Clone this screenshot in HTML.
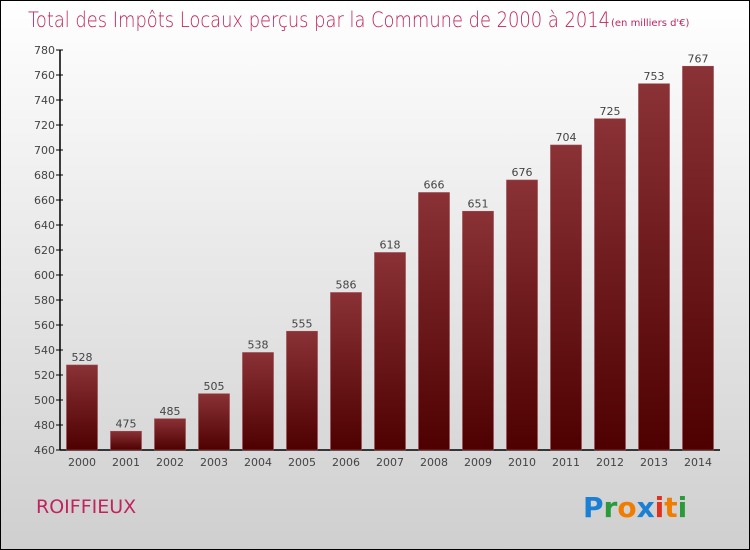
<!DOCTYPE html>
<html><head><meta charset="utf-8"><style>
body{margin:0}
#c{width:748px;height:548px;border:1px solid #000;background:linear-gradient(#ffffff,#cfcfcf);position:relative;font-family:"DejaVu Sans","Liberation Sans",sans-serif;overflow:hidden}
</style></head><body>
<div id="c">
<svg width="748" height="548">
<defs><linearGradient id="g" x1="0" y1="0" x2="0" y2="1"><stop offset="0" stop-color="#8a3236"/><stop offset="1" stop-color="#4e0000"/></linearGradient></defs>
<text x="27" y="26" font-size="21" fill="#c0245e" font-weight="200" style="font-family:'DejaVu Sans',sans-serif" textLength="582" lengthAdjust="spacingAndGlyphs">Total des Impôts Locaux perçus par la Commune de 2000 à 2014</text>
<text x="610" y="25" font-size="10" fill="#c0245e">(en milliers d'€)</text>
<g id="plot"></g>
<text x="35" y="512" font-size="19" fill="#c0245e">ROIFFIEUX</text>
<g font-size="28" font-weight="bold" font-family="'DejaVu Sans',sans-serif">
<text x="582" y="516"><tspan fill="#1b7fd4">P</tspan><tspan fill="#2a9a3a">r</tspan><tspan fill="#f07d00">o</tspan><tspan fill="#1b7fd4">x</tspan><tspan fill="#e03020">i</tspan><tspan fill="#f07d00">t</tspan><tspan fill="#2a9a3a">i</tspan></text></g>
</svg></div>
<script>
const years=["2000","2001","2002","2003","2004","2005","2006","2007","2008","2009","2010","2011","2012","2013","2014"];
const values=[528,475,485,505,538,555,586,618,666,651,676,704,725,753,767];
const yTicks=[460,480,500,520,540,560,580,600,620,640,660,680,700,720,740,760,780];
const NS="http://www.w3.org/2000/svg";
const g=document.getElementById('plot');
const x0=59,x1=719,yTop=49,yBot=449,vMin=460,vMax=780;
const band=(x1-x0)/years.length;
const y=v=>yBot-(v-vMin)/(vMax-vMin)*(yBot-yTop);
function el(t,a){const e=document.createElementNS(NS,t);for(const k in a)e.setAttribute(k,a[k]);g.appendChild(e);return e;}
let ax=el('line',{x1:x0,y1:yTop,x2:x0,y2:yBot,stroke:'#000','stroke-width':1.5});


let bx=el('line',{x1:x0,y1:yBot,x2:x1,y2:yBot,stroke:'#000','stroke-width':1.5});


yTicks.forEach(t=>{
 const tk=el('line',{x1:x0-4,x2:x0+3,y1:y(t),y2:y(t),stroke:'#000'});
 
 
 const tx=el('text',{x:x0-5,y:y(t)+4,'font-size':11,fill:'#444','text-anchor':'end'});
 tx.textContent=t;
 
 
});
years.forEach((yr,i)=>{
 const cx=x0+band*(i+0.5),v=values[i];
 const r=el('rect',{x:cx-15.5,y:y(v),width:31,height:yBot-y(v),fill:'url(#g)',stroke:'#9a4a50','stroke-width':0.6});
 
 
 const l=el('text',{x:cx,y:y(v)-4,'font-size':11,fill:'#444','text-anchor':'middle'});
 l.textContent=v;
 
 
 const xl=el('text',{x:cx,y:yBot+16,'font-size':11,fill:'#444','text-anchor':'middle'});
 xl.textContent=yr;
 
 
});
</script>
</body></html>
